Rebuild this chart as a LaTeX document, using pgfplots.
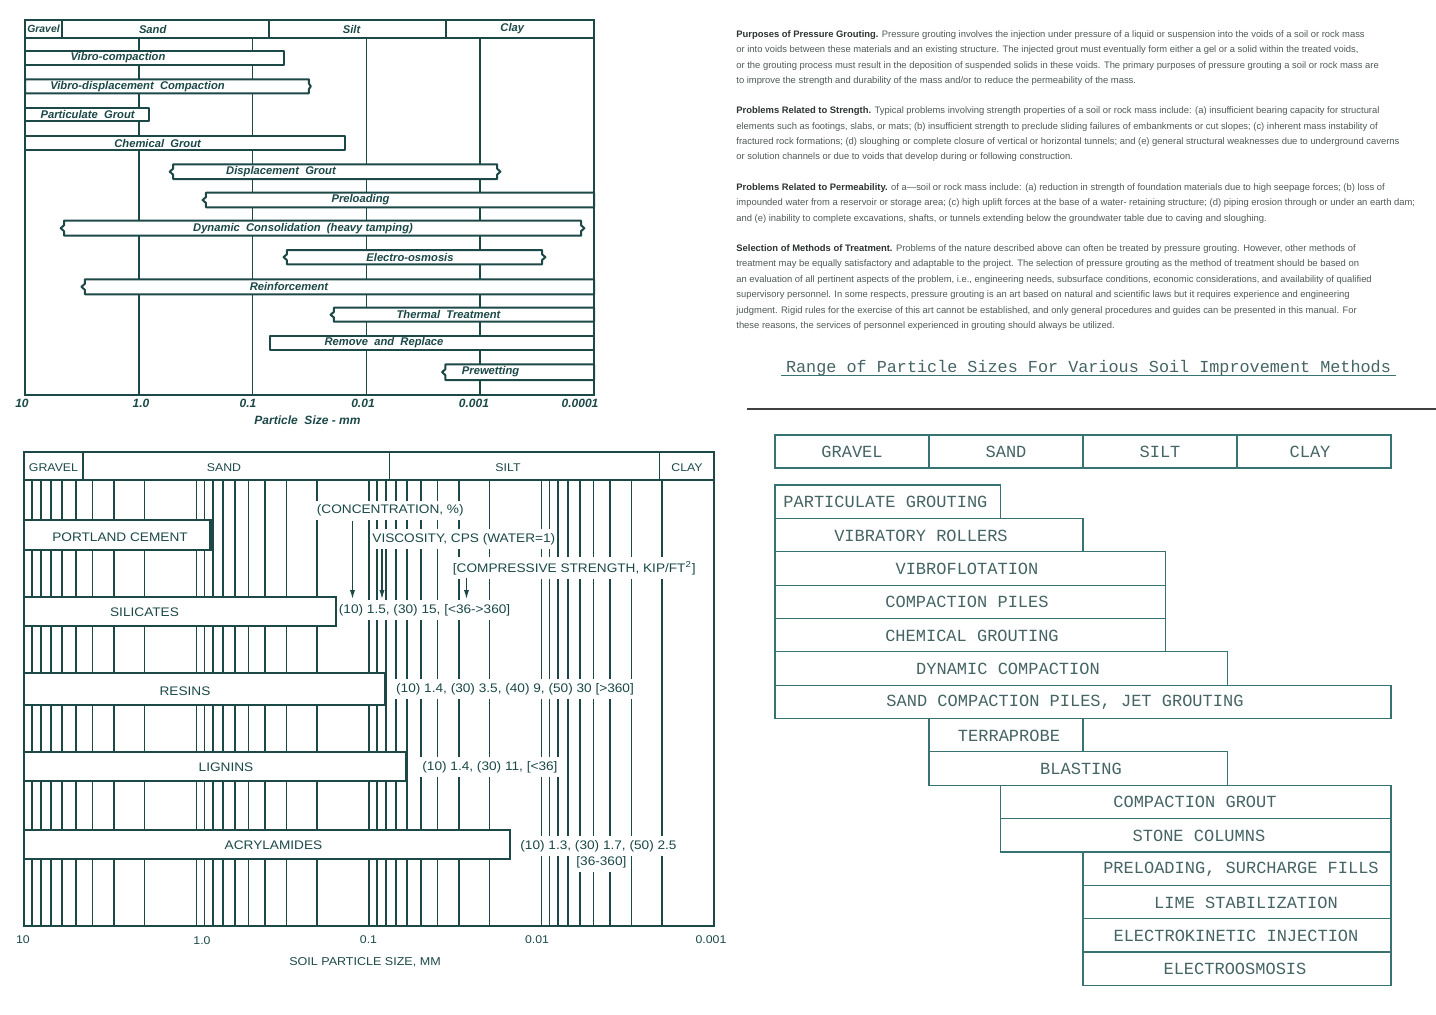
\documentclass[border=0pt]{standalone}
\usepackage{pgfplots}
\pgfplotsset{compat=1.18}
\usepackage{fontspec}
\setmainfont{Liberation Sans}
\setsansfont{Liberation Sans}
\setmonofont{Liberation Mono}
\newfontfamily\wide[FakeStretch=1.1]{Liberation Sans}
\usetikzlibrary{arrows.meta}
\definecolor{lineC}{RGB}{28,72,72}
\definecolor{txtC}{RGB}{80,88,88}
\definecolor{hdC}{RGB}{45,50,50}
\definecolor{brC}{RGB}{55,115,115}
\definecolor{brT}{RGB}{70,100,100}
\newcommand\fs[1]{\fontsize{#1}{#1}\selectfont}
\newcommand\hb[4]{\addplot[bar] coordinates {(#1,#3) (#2,#3) (#2,#4) (#1,#4)} --cycle;}
% bar with brace-like (pointed) ends: #5 x of left tip, #6 x of right tip
\newcommand\hbb[6]{%
 \pgfmathsetmacro\ya{#3+0.3*(#4-#3)}\pgfmathsetmacro\ym{0.5*(#3+#4)}\pgfmathsetmacro\yb{#3+0.7*(#4-#3)}%
 \addplot[bar] coordinates {(#1,#3) (#2,#3) (#2,\ya) (#6,\ym) (#2,\yb) (#2,#4) (#1,#4) (#1,\yb) (#5,\ym) (#1,\ya)} --cycle;}
\begin{document}
\begin{tikzpicture}
\path[use as bounding box] (0pt,0pt) rectangle (718pt,-507pt);

% ---------------- Panel 1: top-left ----------------
\begin{axis}[at={(12.5pt,-197.5pt)}, anchor=south west, scale only axis,
  width=284.5pt, height=187.5pt,
  xmode=log, x dir=reverse, xmin=0.0001, xmax=10,
  y dir=reverse, ymin=20, ymax=395,
  xtick=\empty, ytick=\empty, clip=false,
  axis line style={lineC, line width=1.1pt},
  bar/.style={lineC, line width=1pt, fill=white, line join=round},
  gl/.style={lineC, line width=0.75pt}]
\pgfplotsinvokeforeach{1,0.1,0.01,0.001}{\addplot[gl] coordinates {(#1,38) (#1,395)};}
\addplot[gl] coordinates {(10,38) (0.0001,38)};
\pgfplotsinvokeforeach{4.72,0.072,0.002}{\addplot[gl] coordinates {(#1,20) (#1,38)};}
\hb{10}{0.053}{50.7}{65}
\hbb{10}{0.032}{79.3}{93.3}{10}{0.0308}
\hb{10}{0.81}{107.7}{121}
\hb{10}{0.0153}{136}{150}
\hbb{0.50}{0.00071}{164.3}{179}{0.535}{0.000664}
\hbb{0.257}{0.0001}{192.7}{207.3}{0.275}{0.0001}
\hbb{4.54}{0.00013}{220.7}{235.7}{4.86}{0.0001215}
\hbb{0.05}{0.000286}{250}{264.3}{0.0535}{0.000267}
\hbb{2.98}{0.0001}{279.3}{294.3}{3.19}{0.0001}
\hbb{0.0193}{0.0001}{307.7}{321.7}{0.02065}{0.0001}
\hb{0.071}{0.0001}{336}{350}
\hbb{0.00202}{0.0001}{364.3}{380}{0.00216}{0.0001}
\end{axis}

% ---------------- Panel 2: bottom-left ----------------
\begin{axis}[at={(12pt,-463pt)}, anchor=south west, scale only axis,
  width=345pt, height=237pt,
  xmode=log, x dir=reverse, xmin=0.001, xmax=10,
  y dir=reverse, ymin=452, ymax=926,
  xtick=\empty, ytick=\empty, clip=false,
  axis line style={lineC, line width=1.1pt},
  bar/.style={lineC, line width=1.1pt, fill=white},
  gl/.style={lineC, line width=0.8pt}]
\pgfplotsinvokeforeach{9,8,7,6,5,4,3,2,1,0.9,0.8,0.7,0.6,0.5,0.4,0.3,0.2,0.1,0.09,0.08,0.07,0.06,0.05,0.04,0.03,0.02,0.01,0.009,0.008,0.007,0.006,0.005,0.004,0.003,0.002}{\addplot[gl] coordinates {(#1,480) (#1,926)};}
\addplot[gl, line width=0.9pt] coordinates {(10,480) (0.001,480)};
\pgfplotsinvokeforeach{4.57,0.076,0.00207}{\addplot[gl, line width=0.9pt] coordinates {(#1,452) (#1,480)};}
\hb{10}{0.83}{520}{550}
\hb{10}{0.155}{596.7}{626}
\hb{10}{0.081}{673}{705}
\hb{10}{0.061}{751.7}{780.7}
\hb{10}{0.0152}{830}{859.3}
\end{axis}

% ---------------- Panel 4: bottom-right table ----------------
\begin{axis}[at={(387.5pt,-493pt)}, anchor=south west, scale only axis,
  width=308pt, height=275.5pt,
  xmin=0, xmax=4, y dir=reverse, ymin=435, ymax=986,
  hide axis, clip=false,
  bar/.style={brC, line width=0.55pt, fill=white}]
\hb{0}{1}{435}{468}
\hb{1}{2}{435}{468}
\hb{2}{3}{435}{468}
\hb{3}{4}{435}{468}
\hb{0}{1.465}{485}{518.4}
\hb{0}{2}{518.4}{551.7}
\hb{0}{2.538}{551.7}{585.1}
\hb{0}{2.538}{585.1}{618.4}
\hb{0}{2.538}{618.4}{651.8}
\hb{0}{2.936}{651.8}{685.2}
\hb{0}{4}{685.2}{718.5}
\hb{1}{2}{718.5}{751.9}
\hb{1}{2.936}{751.9}{785.2}
\hb{1.465}{4}{785.2}{818.6}
\hb{1.465}{4}{818.6}{852}
\hb{2}{4}{852}{885.3}
\hb{2}{4}{885.3}{918.7}
\hb{2}{4}{918.7}{952}
\hb{2}{4}{952}{985.4}
\end{axis}

\begin{scope}[x=0.5pt,y=-0.5pt]
% panel 1 text
\begin{scope}[every node/.style={lineC, font=\sffamily\bfseries\itshape\fs{5.6}, inner sep=0pt}]
\node[font=\sffamily\bfseries\itshape\fs{5.2}] at (43.5,29) {Gravel};
\node at (152.7,29) {Sand};
\node at (351.6,29) {Silt};
\node at (512.3,29) {Clay};
\node at (118,57.8) {Vibro-compaction};
\node at (137.5,86.3) {Vibro-displacement\ \ Compaction};
\node at (87.6,114.3) {Particulate\ \ Grout};
\node at (157.6,143) {Chemical\ \ Grout};
\node at (281,171.6) {Displacement\ \ Grout};
\node at (360.5,200) {Preloading};
\node at (303,228.2) {Dynamic\ \ Consolidation\ \ (heavy tamping)};
\node at (410,257) {Electro-osmosis};
\node at (289,286.8) {Reinforcement};
\node at (448.5,314.7) {Thermal\ \ Treatment};
\node at (384,343) {Remove\ \ and\ \ Replace};
\node at (490.6,372) {Prewetting};
\node[font=\sffamily\bfseries\itshape\fs{6}] at (22,403) {10};
\node[font=\sffamily\bfseries\itshape\fs{6}] at (141,403) {1.0};
\node[font=\sffamily\bfseries\itshape\fs{6}] at (248,403) {0.1};
\node[font=\sffamily\bfseries\itshape\fs{6}] at (363,403) {0.01};
\node[font=\sffamily\bfseries\itshape\fs{6}] at (474,403) {0.001};
\node[font=\sffamily\bfseries\itshape\fs{6}] at (580,403) {0.0001};
\node[font=\sffamily\bfseries\itshape\fs{6}] at (307.5,420) {Particle\ \ Size - mm};
\end{scope}
% panel 2 text
\begin{scope}[every node/.style={lineC, font=\wide\fs{6.2}, inner sep=0pt}]
\node[font=\wide\fs{5.6}] at (53.5,467.7) {GRAVEL};
\node[font=\wide\fs{5.6}] at (224,467.7) {SAND};
\node[font=\wide\fs{5.6}] at (508,467.7) {SILT};
\node[font=\wide\fs{5.6}] at (687,467.7) {CLAY};
\node at (120,537) {PORTLAND CEMENT};
\node at (144.5,612) {SILICATES};
\node at (185,691) {RESINS};
\node at (226,767) {LIGNINS};
\node at (273.5,845.5) {ACRYLAMIDES};
\begin{scope}[every node/.append style={fill=white, inner ysep=2pt, inner xsep=1pt, anchor=west}]
\node at (314.5,510.7) {(CONCENTRATION, \%)};
\node at (370,539) {VISCOSITY, CPS (WATER=1)};
\node at (450.5,568) {[COMPRESSIVE STRENGTH, KIP/FT\textsuperscript{2}]};
\node at (336.5,610) {(10) 1.5, (30) 15, [<36->360]};
\node at (393.8,689) {(10) 1.4, (30) 3.5, (40) 9, (50) 30 [>360]};
\node at (420,767) {(10) 1.4, (30) 11, [<36]};
\node at (518,846) {(10) 1.3, (30) 1.7, (50) 2.5};
\node at (574,862) {[36-360]};
\end{scope}
\draw[lineC, line width=0.6pt, -{Latex[length=4.5pt,width=2.6pt]}] (352.5,521) -- (352.5,599);
\draw[lineC, line width=0.6pt, -{Latex[length=4.5pt,width=2.6pt]}] (382,549) -- (382,599);
\draw[lineC, line width=0.6pt, -{Latex[length=4.5pt,width=2.6pt]}] (466.5,578) -- (466.5,599);
\node[font=\wide\fs{5.6}] at (23,940) {10};
\node[font=\wide\fs{5.6}] at (202,941) {1.0};
\node[font=\wide\fs{5.6}] at (368.5,940) {0.1};
\node[font=\wide\fs{5.6}] at (537,940) {0.01};
\node[font=\wide\fs{5.6}] at (711,940) {0.001};
\node[font=\wide\fs{5.7}] at (365,962.5) {SOIL PARTICLE SIZE, MM};
\end{scope}

% panel 3 text
\begin{scope}[every node/.style={anchor=base west, txtC, font=\fs{4.7}, inner sep=0pt}]
\newcommand\hd[1]{\textcolor{hdC}{\textbf{#1}}}
\node at (736,37) {\hd{Purposes of Pressure Grouting.} Pressure grouting involves the injection under pressure of a liquid or suspension into the voids of a soil or rock mass};
\node at (736,52) {or into voids between these materials and an existing structure. The injected grout must eventually form either a gel or a solid within the treated voids,};
\node at (736,68) {or the grouting process must result in the deposition of suspended solids in these voids. The primary purposes of pressure grouting a soil or rock mass are};
\node at (736,83) {to improve the strength and durability of the mass and/or to reduce the permeability of the mass.};
\node at (736,113) {\hd{Problems Related to Strength.} Typical problems involving strength properties of a soil or rock mass include: (a) insufficient bearing capacity for structural};
\node at (736,129) {elements such as footings, slabs, or mats; (b) insufficient strength to preclude sliding failures of embankments or cut slopes; (c) inherent mass instability of};
\node at (736,144) {fractured rock formations; (d) sloughing or complete closure of vertical or horizontal tunnels; and (e) general structural weaknesses due to underground caverns};
\node at (736,159) {or solution channels or due to voids that develop during or following construction.};
\node at (736,190) {\hd{Problems Related to Permeability.} of a---soil or rock mass include: (a) reduction in strength of foundation materials due to high seepage forces; (b) loss of};
\node at (736,205) {impounded water from a reservoir or storage area; (c) high uplift forces at the base of a water- retaining structure; (d) piping erosion through or under an earth dam;};
\node at (736,221) {and (e) inability to complete excavations, shafts, or tunnels extending below the groundwater table due to caving and sloughing.};
\node at (736,251) {\hd{Selection of Methods of Treatment.} Problems of the nature described above can often be treated by pressure grouting. However, other methods of};
\node at (736,266) {treatment may be equally satisfactory and adaptable to the project. The selection of pressure grouting as the method of treatment should be based on};
\node at (736,282) {an evaluation of all pertinent aspects of the problem, i.e., engineering needs, subsurface conditions, economic considerations, and availability of qualified};
\node at (736,297) {supervisory personnel. In some respects, pressure grouting is an art based on natural and scientific laws but it requires experience and engineering};
\node at (736,313) {judgment. Rigid rules for the exercise of this art cannot be established, and only general procedures and guides can be presented in this manual. For};
\node at (736,328) {these reasons, the services of personnel experienced in grouting should always be utilized.};
\end{scope}
\node[brT, font=\ttfamily\fs{8.4}, inner sep=0pt] at (1088.5,368) {Range of Particle Sizes For Various Soil Improvement Methods};
\draw[brC, line width=0.5pt] (781,375) -- (1396,375);
\draw[black!75, line width=1pt] (747,409) -- (1436,409);

% panel 4 text
\begin{scope}[every node/.style={brT, font=\ttfamily\fs{8.5}, inner sep=0pt}]
\node at (852,452) {GRAVEL};
\node at (1006,452) {SAND};
\node at (1160,452) {SILT};
\node at (1310,452) {CLAY};
\node[anchor=west] at (783,502) {PARTICULATE GROUTING};
\node at (921,535.5) {VIBRATORY ROLLERS};
\node at (967,568.8) {VIBROFLOTATION};
\node at (967,602.2) {COMPACTION PILES};
\node at (972,635.5) {CHEMICAL GROUTING};
\node at (1008,668.9) {DYNAMIC COMPACTION};
\node at (1065,702.3) {SAND COMPACTION PILES, JET GROUTING};
\node at (1009,735.6) {TERRAPROBE};
\node at (1081,769) {BLASTING};
\node at (1195,802.3) {COMPACTION GROUT};
\node at (1199,835.7) {STONE COLUMNS};
\node at (1241,869) {PRELOADING, SURCHARGE FILLS};
\node at (1246,902.4) {LIME STABILIZATION};
\node at (1236,935.7) {ELECTROKINETIC INJECTION};
\node at (1235,969.1) {ELECTROOSMOSIS};
\end{scope}
\end{scope}
\end{tikzpicture}
\end{document}
